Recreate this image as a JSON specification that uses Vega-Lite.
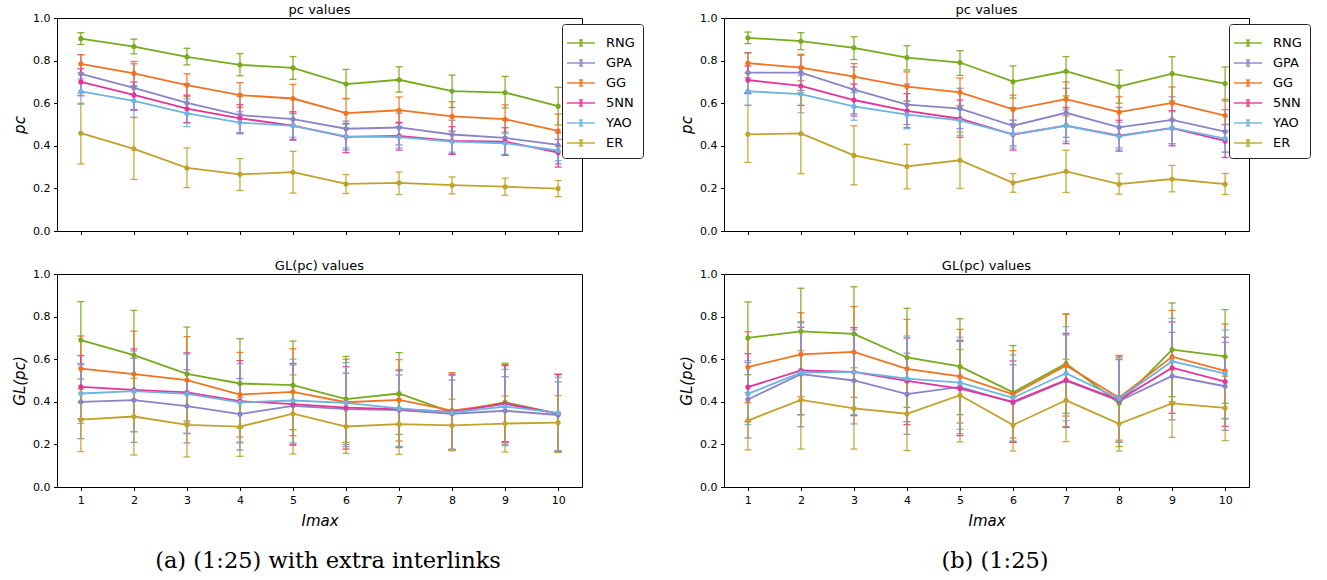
{
  "$schema": "https://vega.github.io/schema/vega-lite/v6.json",
  "padding": {"left": 12, "top": 3, "right": 5, "bottom": 2},
  "background": "white",
  "datasets": {
    "a_pc": [
      {"series":"RNG","x":1,"y":0.903,"lo":0.876,"hi":0.931},{"series":"RNG","x":2,"y":0.866,"lo":0.832,"hi":0.901},{"series":"RNG","x":3,"y":0.818,"lo":0.78,"hi":0.858},{"series":"RNG","x":4,"y":0.78,"lo":0.729,"hi":0.833},{"series":"RNG","x":5,"y":0.766,"lo":0.712,"hi":0.819},{"series":"RNG","x":6,"y":0.69,"lo":0.621,"hi":0.759},{"series":"RNG","x":7,"y":0.71,"lo":0.652,"hi":0.771},{"series":"RNG","x":8,"y":0.657,"lo":0.58,"hi":0.732},{"series":"RNG","x":9,"y":0.65,"lo":0.578,"hi":0.726},{"series":"RNG","x":10,"y":0.586,"lo":0.498,"hi":0.675},
      {"series":"GPA","x":1,"y":0.738,"lo":0.648,"hi":0.828},{"series":"GPA","x":2,"y":0.672,"lo":0.566,"hi":0.785},{"series":"GPA","x":3,"y":0.601,"lo":0.508,"hi":0.692},{"series":"GPA","x":4,"y":0.544,"lo":0.456,"hi":0.632},{"series":"GPA","x":5,"y":0.525,"lo":0.425,"hi":0.622},{"series":"GPA","x":6,"y":0.48,"lo":0.38,"hi":0.516},{"series":"GPA","x":7,"y":0.486,"lo":0.404,"hi":0.553},{"series":"GPA","x":8,"y":0.453,"lo":0.362,"hi":0.52},{"series":"GPA","x":9,"y":0.437,"lo":0.357,"hi":0.52},{"series":"GPA","x":10,"y":0.404,"lo":0.315,"hi":0.46},
      {"series":"GG","x":1,"y":0.785,"lo":0.742,"hi":0.828},{"series":"GG","x":2,"y":0.74,"lo":0.682,"hi":0.796},{"series":"GG","x":3,"y":0.685,"lo":0.632,"hi":0.738},{"series":"GG","x":4,"y":0.638,"lo":0.581,"hi":0.696},{"series":"GG","x":5,"y":0.622,"lo":0.553,"hi":0.688},{"series":"GG","x":6,"y":0.553,"lo":0.483,"hi":0.622},{"series":"GG","x":7,"y":0.567,"lo":0.506,"hi":0.629},{"series":"GG","x":8,"y":0.538,"lo":0.467,"hi":0.607},{"series":"GG","x":9,"y":0.525,"lo":0.459,"hi":0.592},{"series":"GG","x":10,"y":0.47,"lo":0.397,"hi":0.549},
      {"series":"5NN","x":1,"y":0.7,"lo":0.635,"hi":0.762},{"series":"5NN","x":2,"y":0.639,"lo":0.57,"hi":0.7},{"series":"5NN","x":3,"y":0.574,"lo":0.509,"hi":0.638},{"series":"5NN","x":4,"y":0.529,"lo":0.462,"hi":0.593},{"series":"5NN","x":5,"y":0.495,"lo":0.43,"hi":0.56},{"series":"5NN","x":6,"y":0.442,"lo":0.368,"hi":0.505},{"series":"5NN","x":7,"y":0.447,"lo":0.38,"hi":0.51},{"series":"5NN","x":8,"y":0.423,"lo":0.36,"hi":0.49},{"series":"5NN","x":9,"y":0.42,"lo":0.355,"hi":0.485},{"series":"5NN","x":10,"y":0.368,"lo":0.3,"hi":0.43},
      {"series":"YAO","x":1,"y":0.655,"lo":0.595,"hi":0.714},{"series":"YAO","x":2,"y":0.611,"lo":0.534,"hi":0.678},{"series":"YAO","x":3,"y":0.552,"lo":0.49,"hi":0.62},{"series":"YAO","x":4,"y":0.509,"lo":0.46,"hi":0.56},{"series":"YAO","x":5,"y":0.494,"lo":0.44,"hi":0.55},{"series":"YAO","x":6,"y":0.444,"lo":0.39,"hi":0.5},{"series":"YAO","x":7,"y":0.441,"lo":0.39,"hi":0.49},{"series":"YAO","x":8,"y":0.42,"lo":0.37,"hi":0.47},{"series":"YAO","x":9,"y":0.412,"lo":0.36,"hi":0.465},{"series":"YAO","x":10,"y":0.378,"lo":0.33,"hi":0.43},
      {"series":"ER","x":1,"y":0.459,"lo":0.315,"hi":0.6},{"series":"ER","x":2,"y":0.386,"lo":0.242,"hi":0.533},{"series":"ER","x":3,"y":0.296,"lo":0.204,"hi":0.39},{"series":"ER","x":4,"y":0.266,"lo":0.19,"hi":0.34},{"series":"ER","x":5,"y":0.276,"lo":0.178,"hi":0.374},{"series":"ER","x":6,"y":0.221,"lo":0.176,"hi":0.265},{"series":"ER","x":7,"y":0.226,"lo":0.171,"hi":0.277},{"series":"ER","x":8,"y":0.215,"lo":0.174,"hi":0.254},{"series":"ER","x":9,"y":0.208,"lo":0.168,"hi":0.248},{"series":"ER","x":10,"y":0.199,"lo":0.161,"hi":0.237}
    ],
    "a_gl": [
      {"series":"RNG","x":1,"y":0.69,"lo":0.507,"hi":0.87},{"series":"RNG","x":2,"y":0.619,"lo":0.41,"hi":0.829},{"series":"RNG","x":3,"y":0.531,"lo":0.31,"hi":0.751},{"series":"RNG","x":4,"y":0.486,"lo":0.277,"hi":0.696},{"series":"RNG","x":5,"y":0.478,"lo":0.269,"hi":0.685},{"series":"RNG","x":6,"y":0.413,"lo":0.21,"hi":0.613},{"series":"RNG","x":7,"y":0.439,"lo":0.247,"hi":0.631},{"series":"RNG","x":8,"y":0.35,"lo":0.175,"hi":0.525},{"series":"RNG","x":9,"y":0.398,"lo":0.21,"hi":0.581},{"series":"RNG","x":10,"y":0.345,"lo":0.166,"hi":0.529},
      {"series":"GPA","x":1,"y":0.4,"lo":0.227,"hi":0.574},{"series":"GPA","x":2,"y":0.408,"lo":0.21,"hi":0.604},{"series":"GPA","x":3,"y":0.38,"lo":0.207,"hi":0.551},{"series":"GPA","x":4,"y":0.342,"lo":0.174,"hi":0.509},{"series":"GPA","x":5,"y":0.381,"lo":0.195,"hi":0.573},{"series":"GPA","x":6,"y":0.366,"lo":0.2,"hi":0.534},{"series":"GPA","x":7,"y":0.361,"lo":0.19,"hi":0.526},{"series":"GPA","x":8,"y":0.344,"lo":0.178,"hi":0.502},{"series":"GPA","x":9,"y":0.358,"lo":0.2,"hi":0.518},{"series":"GPA","x":10,"y":0.338,"lo":0.17,"hi":0.493},
      {"series":"GG","x":1,"y":0.556,"lo":0.397,"hi":0.709},{"series":"GG","x":2,"y":0.53,"lo":0.33,"hi":0.732},{"series":"GG","x":3,"y":0.502,"lo":0.3,"hi":0.706},{"series":"GG","x":4,"y":0.434,"lo":0.235,"hi":0.632},{"series":"GG","x":5,"y":0.447,"lo":0.241,"hi":0.649},{"series":"GG","x":6,"y":0.398,"lo":0.19,"hi":0.6},{"series":"GG","x":7,"y":0.409,"lo":0.216,"hi":0.598},{"series":"GG","x":8,"y":0.359,"lo":0.175,"hi":0.537},{"series":"GG","x":9,"y":0.392,"lo":0.213,"hi":0.575},{"series":"GG","x":10,"y":0.345,"lo":0.166,"hi":0.529},
      {"series":"5NN","x":1,"y":0.47,"lo":0.32,"hi":0.617},{"series":"5NN","x":2,"y":0.456,"lo":0.26,"hi":0.648},{"series":"5NN","x":3,"y":0.444,"lo":0.252,"hi":0.63},{"series":"5NN","x":4,"y":0.403,"lo":0.21,"hi":0.593},{"series":"5NN","x":5,"y":0.389,"lo":0.2,"hi":0.58},{"series":"5NN","x":6,"y":0.373,"lo":0.178,"hi":0.565},{"series":"5NN","x":7,"y":0.366,"lo":0.185,"hi":0.55},{"series":"5NN","x":8,"y":0.353,"lo":0.175,"hi":0.53},{"series":"5NN","x":9,"y":0.391,"lo":0.21,"hi":0.57},{"series":"5NN","x":10,"y":0.345,"lo":0.165,"hi":0.528},
      {"series":"YAO","x":1,"y":0.439,"lo":0.299,"hi":0.58},{"series":"YAO","x":2,"y":0.45,"lo":0.26,"hi":0.638},{"series":"YAO","x":3,"y":0.437,"lo":0.25,"hi":0.624},{"series":"YAO","x":4,"y":0.397,"lo":0.207,"hi":0.579},{"series":"YAO","x":5,"y":0.406,"lo":0.208,"hi":0.6},{"series":"YAO","x":6,"y":0.395,"lo":0.19,"hi":0.584},{"series":"YAO","x":7,"y":0.369,"lo":0.19,"hi":0.545},{"series":"YAO","x":8,"y":0.35,"lo":0.175,"hi":0.525},{"series":"YAO","x":9,"y":0.378,"lo":0.194,"hi":0.552},{"series":"YAO","x":10,"y":0.348,"lo":0.17,"hi":0.515},
      {"series":"ER","x":1,"y":0.316,"lo":0.166,"hi":0.46},{"series":"ER","x":2,"y":0.331,"lo":0.15,"hi":0.51},{"series":"ER","x":3,"y":0.292,"lo":0.141,"hi":0.44},{"series":"ER","x":4,"y":0.283,"lo":0.144,"hi":0.42},{"series":"ER","x":5,"y":0.344,"lo":0.155,"hi":0.526},{"series":"ER","x":6,"y":0.284,"lo":0.158,"hi":0.4},{"series":"ER","x":7,"y":0.295,"lo":0.153,"hi":0.43},{"series":"ER","x":8,"y":0.289,"lo":0.17,"hi":0.412},{"series":"ER","x":9,"y":0.298,"lo":0.164,"hi":0.427},{"series":"ER","x":10,"y":0.302,"lo":0.163,"hi":0.429}
    ],
    "b_pc": [
      {"series":"RNG","x":1,"y":0.907,"lo":0.88,"hi":0.934},{"series":"RNG","x":2,"y":0.891,"lo":0.851,"hi":0.931},{"series":"RNG","x":3,"y":0.86,"lo":0.805,"hi":0.912},{"series":"RNG","x":4,"y":0.814,"lo":0.756,"hi":0.87},{"series":"RNG","x":5,"y":0.791,"lo":0.73,"hi":0.846},{"series":"RNG","x":6,"y":0.701,"lo":0.624,"hi":0.775},{"series":"RNG","x":7,"y":0.75,"lo":0.634,"hi":0.819},{"series":"RNG","x":8,"y":0.678,"lo":0.6,"hi":0.755},{"series":"RNG","x":9,"y":0.739,"lo":0.61,"hi":0.818},{"series":"RNG","x":10,"y":0.692,"lo":0.61,"hi":0.77},
      {"series":"GPA","x":1,"y":0.744,"lo":0.65,"hi":0.838},{"series":"GPA","x":2,"y":0.744,"lo":0.66,"hi":0.825},{"series":"GPA","x":3,"y":0.664,"lo":0.55,"hi":0.77},{"series":"GPA","x":4,"y":0.593,"lo":0.5,"hi":0.69},{"series":"GPA","x":5,"y":0.575,"lo":0.48,"hi":0.67},{"series":"GPA","x":6,"y":0.494,"lo":0.4,"hi":0.58},{"series":"GPA","x":7,"y":0.555,"lo":0.44,"hi":0.67},{"series":"GPA","x":8,"y":0.487,"lo":0.39,"hi":0.58},{"series":"GPA","x":9,"y":0.522,"lo":0.41,"hi":0.63},{"series":"GPA","x":10,"y":0.467,"lo":0.37,"hi":0.57},
      {"series":"GG","x":1,"y":0.788,"lo":0.742,"hi":0.835},{"series":"GG","x":2,"y":0.767,"lo":0.705,"hi":0.83},{"series":"GG","x":3,"y":0.725,"lo":0.665,"hi":0.786},{"series":"GG","x":4,"y":0.678,"lo":0.61,"hi":0.747},{"series":"GG","x":5,"y":0.651,"lo":0.586,"hi":0.718},{"series":"GG","x":6,"y":0.571,"lo":0.505,"hi":0.638},{"series":"GG","x":7,"y":0.619,"lo":0.54,"hi":0.7},{"series":"GG","x":8,"y":0.558,"lo":0.49,"hi":0.63},{"series":"GG","x":9,"y":0.601,"lo":0.524,"hi":0.676},{"series":"GG","x":10,"y":0.542,"lo":0.47,"hi":0.618},
      {"series":"5NN","x":1,"y":0.709,"lo":0.645,"hi":0.775},{"series":"5NN","x":2,"y":0.681,"lo":0.59,"hi":0.77},{"series":"5NN","x":3,"y":0.615,"lo":0.54,"hi":0.69},{"series":"5NN","x":4,"y":0.564,"lo":0.485,"hi":0.645},{"series":"5NN","x":5,"y":0.527,"lo":0.44,"hi":0.615},{"series":"5NN","x":6,"y":0.453,"lo":0.38,"hi":0.52},{"series":"5NN","x":7,"y":0.495,"lo":0.41,"hi":0.58},{"series":"5NN","x":8,"y":0.448,"lo":0.375,"hi":0.52},{"series":"5NN","x":9,"y":0.483,"lo":0.4,"hi":0.565},{"series":"5NN","x":10,"y":0.423,"lo":0.345,"hi":0.5},
      {"series":"YAO","x":1,"y":0.656,"lo":0.59,"hi":0.72},{"series":"YAO","x":2,"y":0.643,"lo":0.555,"hi":0.73},{"series":"YAO","x":3,"y":0.585,"lo":0.52,"hi":0.65},{"series":"YAO","x":4,"y":0.546,"lo":0.48,"hi":0.61},{"series":"YAO","x":5,"y":0.519,"lo":0.45,"hi":0.59},{"series":"YAO","x":6,"y":0.454,"lo":0.39,"hi":0.52},{"series":"YAO","x":7,"y":0.494,"lo":0.42,"hi":0.57},{"series":"YAO","x":8,"y":0.445,"lo":0.38,"hi":0.51},{"series":"YAO","x":9,"y":0.484,"lo":0.41,"hi":0.56},{"series":"YAO","x":10,"y":0.434,"lo":0.37,"hi":0.5},
      {"series":"ER","x":1,"y":0.454,"lo":0.322,"hi":0.59},{"series":"ER","x":2,"y":0.458,"lo":0.269,"hi":0.65},{"series":"ER","x":3,"y":0.355,"lo":0.217,"hi":0.494},{"series":"ER","x":4,"y":0.303,"lo":0.198,"hi":0.407},{"series":"ER","x":5,"y":0.332,"lo":0.2,"hi":0.465},{"series":"ER","x":6,"y":0.226,"lo":0.182,"hi":0.27},{"series":"ER","x":7,"y":0.28,"lo":0.181,"hi":0.379},{"series":"ER","x":8,"y":0.22,"lo":0.173,"hi":0.269},{"series":"ER","x":9,"y":0.244,"lo":0.184,"hi":0.308},{"series":"ER","x":10,"y":0.22,"lo":0.171,"hi":0.27}
    ],
    "b_gl": [
      {"series":"RNG","x":1,"y":0.7,"lo":0.527,"hi":0.869},{"series":"RNG","x":2,"y":0.731,"lo":0.53,"hi":0.933},{"series":"RNG","x":3,"y":0.719,"lo":0.5,"hi":0.94},{"series":"RNG","x":4,"y":0.608,"lo":0.374,"hi":0.839},{"series":"RNG","x":5,"y":0.566,"lo":0.34,"hi":0.79},{"series":"RNG","x":6,"y":0.444,"lo":0.21,"hi":0.664},{"series":"RNG","x":7,"y":0.58,"lo":0.346,"hi":0.812},{"series":"RNG","x":8,"y":0.393,"lo":0.19,"hi":0.6},{"series":"RNG","x":9,"y":0.645,"lo":0.424,"hi":0.864},{"series":"RNG","x":10,"y":0.613,"lo":0.393,"hi":0.833},
      {"series":"GPA","x":1,"y":0.411,"lo":0.23,"hi":0.584},{"series":"GPA","x":2,"y":0.53,"lo":0.283,"hi":0.776},{"series":"GPA","x":3,"y":0.5,"lo":0.296,"hi":0.72},{"series":"GPA","x":4,"y":0.436,"lo":0.247,"hi":0.628},{"series":"GPA","x":5,"y":0.47,"lo":0.25,"hi":0.69},{"series":"GPA","x":6,"y":0.396,"lo":0.215,"hi":0.574},{"series":"GPA","x":7,"y":0.499,"lo":0.283,"hi":0.714},{"series":"GPA","x":8,"y":0.404,"lo":0.21,"hi":0.598},{"series":"GPA","x":9,"y":0.521,"lo":0.315,"hi":0.726},{"series":"GPA","x":10,"y":0.473,"lo":0.266,"hi":0.679},
      {"series":"GG","x":1,"y":0.563,"lo":0.396,"hi":0.729},{"series":"GG","x":2,"y":0.623,"lo":0.424,"hi":0.818},{"series":"GG","x":3,"y":0.634,"lo":0.421,"hi":0.847},{"series":"GG","x":4,"y":0.555,"lo":0.307,"hi":0.787},{"series":"GG","x":5,"y":0.519,"lo":0.3,"hi":0.74},{"series":"GG","x":6,"y":0.435,"lo":0.23,"hi":0.64},{"series":"GG","x":7,"y":0.571,"lo":0.333,"hi":0.812},{"series":"GG","x":8,"y":0.419,"lo":0.22,"hi":0.618},{"series":"GG","x":9,"y":0.612,"lo":0.4,"hi":0.829},{"series":"GG","x":10,"y":0.545,"lo":0.32,"hi":0.765},
      {"series":"5NN","x":1,"y":0.469,"lo":0.307,"hi":0.626},{"series":"5NN","x":2,"y":0.547,"lo":0.34,"hi":0.75},{"series":"5NN","x":3,"y":0.54,"lo":0.335,"hi":0.748},{"series":"5NN","x":4,"y":0.498,"lo":0.293,"hi":0.7},{"series":"5NN","x":5,"y":0.462,"lo":0.241,"hi":0.684},{"series":"5NN","x":6,"y":0.4,"lo":0.21,"hi":0.592},{"series":"5NN","x":7,"y":0.502,"lo":0.28,"hi":0.721},{"series":"5NN","x":8,"y":0.408,"lo":0.21,"hi":0.61},{"series":"5NN","x":9,"y":0.56,"lo":0.346,"hi":0.775},{"series":"5NN","x":10,"y":0.495,"lo":0.285,"hi":0.703},
      {"series":"YAO","x":1,"y":0.437,"lo":0.293,"hi":0.593},{"series":"YAO","x":2,"y":0.537,"lo":0.338,"hi":0.77},{"series":"YAO","x":3,"y":0.54,"lo":0.341,"hi":0.737},{"series":"YAO","x":4,"y":0.509,"lo":0.307,"hi":0.709},{"series":"YAO","x":5,"y":0.49,"lo":0.271,"hi":0.703},{"series":"YAO","x":6,"y":0.419,"lo":0.215,"hi":0.62},{"series":"YAO","x":7,"y":0.534,"lo":0.311,"hi":0.753},{"series":"YAO","x":8,"y":0.415,"lo":0.21,"hi":0.61},{"series":"YAO","x":9,"y":0.59,"lo":0.39,"hi":0.792},{"series":"YAO","x":10,"y":0.532,"lo":0.322,"hi":0.737},
      {"series":"ER","x":1,"y":0.312,"lo":0.174,"hi":0.444},{"series":"ER","x":2,"y":0.409,"lo":0.178,"hi":0.64},{"series":"ER","x":3,"y":0.369,"lo":0.178,"hi":0.56},{"series":"ER","x":4,"y":0.344,"lo":0.171,"hi":0.5},{"series":"ER","x":5,"y":0.431,"lo":0.211,"hi":0.646},{"series":"ER","x":6,"y":0.291,"lo":0.169,"hi":0.42},{"series":"ER","x":7,"y":0.407,"lo":0.213,"hi":0.6},{"series":"ER","x":8,"y":0.297,"lo":0.169,"hi":0.43},{"series":"ER","x":9,"y":0.393,"lo":0.233,"hi":0.55},{"series":"ER","x":10,"y":0.371,"lo":0.218,"hi":0.52}
    ]
  },
  "hconcat": [
    {
      "title": {"text": "(a) (1:25) with extra interlinks", "orient": "bottom", "font": "DejaVu Serif", "fontSize": 22.5, "fontWeight": "normal", "offset": 21, "anchor": "middle", "color": "#000"},
      "spacing": 22,
      "resolve": {"scale": {"color": "independent", "y": "independent", "x": "independent"}, "legend": {"color": "independent"}},
      "vconcat": [
        {
          "width": 525, "height": 213,
          "data": {"name": "a_pc"},
          "title": "pc values",
          "encoding": {
            "x": {"field": "x", "type": "quantitative", "scale": {"domain": [0.55, 10.45], "nice": false, "zero": false}, "axis": {"values": [1,2,3,4,5,6,7,8,9,10], "labels": false, "title": null}},
            "color": {"field": "series", "type": "nominal", "scale": {"domain": ["RNG","GPA","GG","5NN","YAO","ER"], "range": ["#77ab1f","#8a84c6","#f07320","#e5339a","#6db4e0","#c1a22b"]},
              "legend": {"orient": "none", "legendX": 505, "legendY": 6, "title": null, "fillColor": "white", "strokeColor": "#222222", "cornerRadius": 3, "padding": 8, "labelFontSize": 13, "labelColor": "#000", "rowPadding": 2, "symbolStrokeWidth": 1.6, "symbolSize": 400, "labelOffset": 14, "symbolType": "M-1.4,0H1.4M0,-0.3V0.3M-0.2,-0.3H0.2M-0.2,0.3H0.2M0.13,0A0.13,0.13 0 1,1 -0.13,0A0.13,0.13 0 1,1 0.13,0Z"}}
          },
          "layer": [
            {"mark": {"type": "errorbar", "ticks": {"size": 7, "thickness": 1.3}, "thickness": 1.3, "opacity": 0.9}, "encoding": {"y": {"field": "lo", "type": "quantitative", "scale": {"domain": [0, 1], "nice": false}, "axis": {"values": [0,0.2,0.4,0.6,0.8,1], "format": ".1f", "title": "pc", "titleFontStyle": "italic"}}, "y2": {"field": "hi"}}},
            {"mark": {"type": "line", "strokeWidth": 1.8}, "encoding": {"y": {"field": "y", "type": "quantitative", "title": "pc"}}},
            {"mark": {"type": "point", "filled": true, "size": 26, "opacity": 1}, "encoding": {"y": {"field": "y", "type": "quantitative", "title": "pc"}}}
          ]
        },
        {
          "width": 525, "height": 213,
          "data": {"name": "a_gl"},
          "title": "GL(pc) values",
          "encoding": {
            "x": {"field": "x", "type": "quantitative", "scale": {"domain": [0.55, 10.45], "nice": false, "zero": false}, "axis": {"values": [1,2,3,4,5,6,7,8,9,10], "title": "Imax", "titleFontStyle": "italic"}},
            "color": {"field": "series", "type": "nominal", "scale": {"domain": ["RNG","GPA","GG","5NN","YAO","ER"], "range": ["#77ab1f","#8a84c6","#f07320","#e5339a","#6db4e0","#c1a22b"]}, "legend": null}
          },
          "layer": [
            {"mark": {"type": "errorbar", "ticks": {"size": 7, "thickness": 1.3}, "thickness": 1.3, "opacity": 0.9}, "encoding": {"y": {"field": "lo", "type": "quantitative", "scale": {"domain": [0, 1], "nice": false}, "axis": {"values": [0,0.2,0.4,0.6,0.8,1], "format": ".1f", "title": "GL(pc)", "titleFontStyle": "italic"}}, "y2": {"field": "hi"}}},
            {"mark": {"type": "line", "strokeWidth": 1.8}, "encoding": {"y": {"field": "y", "type": "quantitative", "title": "GL(pc)"}}},
            {"mark": {"type": "point", "filled": true, "size": 26, "opacity": 1}, "encoding": {"y": {"field": "y", "type": "quantitative", "title": "GL(pc)"}}}
          ]
        }
      ]
    },
    {
      "title": {"text": "(b) (1:25)", "orient": "bottom", "font": "DejaVu Serif", "fontSize": 22.5, "fontWeight": "normal", "offset": 21, "anchor": "middle", "color": "#000"},
      "spacing": 22,
      "resolve": {"scale": {"color": "independent", "y": "independent", "x": "independent"}, "legend": {"color": "independent"}},
      "vconcat": [
        {
          "width": 525, "height": 213,
          "data": {"name": "b_pc"},
          "title": "pc values",
          "encoding": {
            "x": {"field": "x", "type": "quantitative", "scale": {"domain": [0.55, 10.45], "nice": false, "zero": false}, "axis": {"values": [1,2,3,4,5,6,7,8,9,10], "labels": false, "title": null}},
            "color": {"field": "series", "type": "nominal", "scale": {"domain": ["RNG","GPA","GG","5NN","YAO","ER"], "range": ["#77ab1f","#8a84c6","#f07320","#e5339a","#6db4e0","#c1a22b"]},
              "legend": {"orient": "none", "legendX": 505, "legendY": 6, "title": null, "fillColor": "white", "strokeColor": "#222222", "cornerRadius": 3, "padding": 8, "labelFontSize": 13, "labelColor": "#000", "rowPadding": 2, "symbolStrokeWidth": 1.6, "symbolSize": 400, "labelOffset": 14, "symbolType": "M-1.4,0H1.4M0,-0.3V0.3M-0.2,-0.3H0.2M-0.2,0.3H0.2M0.13,0A0.13,0.13 0 1,1 -0.13,0A0.13,0.13 0 1,1 0.13,0Z"}}
          },
          "layer": [
            {"mark": {"type": "errorbar", "ticks": {"size": 7, "thickness": 1.3}, "thickness": 1.3, "opacity": 0.9}, "encoding": {"y": {"field": "lo", "type": "quantitative", "scale": {"domain": [0, 1], "nice": false}, "axis": {"values": [0,0.2,0.4,0.6,0.8,1], "format": ".1f", "title": "pc", "titleFontStyle": "italic"}}, "y2": {"field": "hi"}}},
            {"mark": {"type": "line", "strokeWidth": 1.8}, "encoding": {"y": {"field": "y", "type": "quantitative", "title": "pc"}}},
            {"mark": {"type": "point", "filled": true, "size": 26, "opacity": 1}, "encoding": {"y": {"field": "y", "type": "quantitative", "title": "pc"}}}
          ]
        },
        {
          "width": 525, "height": 213,
          "data": {"name": "b_gl"},
          "title": "GL(pc) values",
          "encoding": {
            "x": {"field": "x", "type": "quantitative", "scale": {"domain": [0.55, 10.45], "nice": false, "zero": false}, "axis": {"values": [1,2,3,4,5,6,7,8,9,10], "title": "Imax", "titleFontStyle": "italic"}},
            "color": {"field": "series", "type": "nominal", "scale": {"domain": ["RNG","GPA","GG","5NN","YAO","ER"], "range": ["#77ab1f","#8a84c6","#f07320","#e5339a","#6db4e0","#c1a22b"]}, "legend": null}
          },
          "layer": [
            {"mark": {"type": "errorbar", "ticks": {"size": 7, "thickness": 1.3}, "thickness": 1.3, "opacity": 0.9}, "encoding": {"y": {"field": "lo", "type": "quantitative", "scale": {"domain": [0, 1], "nice": false}, "axis": {"values": [0,0.2,0.4,0.6,0.8,1], "format": ".1f", "title": "GL(pc)", "titleFontStyle": "italic"}}, "y2": {"field": "hi"}}},
            {"mark": {"type": "line", "strokeWidth": 1.8}, "encoding": {"y": {"field": "y", "type": "quantitative", "title": "GL(pc)"}}},
            {"mark": {"type": "point", "filled": true, "size": 26, "opacity": 1}, "encoding": {"y": {"field": "y", "type": "quantitative", "title": "GL(pc)"}}}
          ]
        }
      ]
    }
  ],
  "spacing": 35,
  "resolve": {"scale": {"color": "independent", "y": "independent", "x": "independent"}, "legend": {"color": "independent"}},
  "config": {
    "font": "DejaVu Sans",
    "view": {"stroke": "#000000", "strokeWidth": 1},
    "axis": {"grid": false, "domain": false, "tickColor": "#000000", "tickSize": 3.5, "labelColor": "#000000", "labelFontSize": 11, "labelFont": "DejaVu Sans", "titleFont": "DejaVu Sans", "titleColor": "#000000", "titleFontWeight": "normal", "titleFontSize": 15, "labelPadding": 3.5},
    "axisY": {"titlePadding": 5},
    "axisX": {"titlePadding": 8},
    "title": {"fontSize": 13, "fontWeight": "normal", "font": "DejaVu Sans", "color": "#000000", "offset": -5}
  }
}
